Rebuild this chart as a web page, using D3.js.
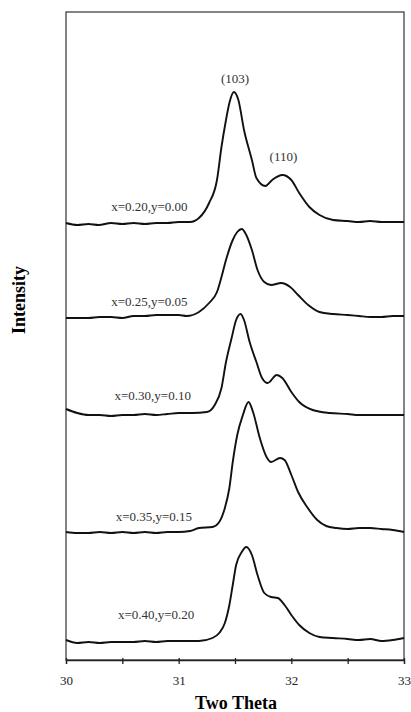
<!DOCTYPE html>
<html>
<head>
<meta charset="utf-8">
<script src="https://cdn.jsdelivr.net/npm/d3@7"></script>
<style>
body{margin:0;background:#fff;}
svg{display:block;}
</style>
</head>
<body>
<svg width="411" height="712"></svg>
<script>
// sample names, first = top trace
var samples = ["x=0.20,y=0.00","x=0.25,y=0.05","x=0.30,y=0.10","x=0.35,y=0.15","x=0.40,y=0.20"];
// vertical stacking offset of each trace (counts)
var offsets = [4350, 3420, 2440, 1270, 170];
var xTicks = [30, 31, 32, 33];

// two theta / intensity
var s020 = [[30.0,20],[30.1,0],[30.2,10],[30.29,0],[30.4,20],[30.5,10],[30.6,20],[30.7,10],[30.8,20],[30.9,20],[31.0,30],[31.1,30],[31.18,70],[31.27,220],[31.34,450],[31.38,780],[31.42,1050],[31.45,1220],[31.49,1330],[31.53,1250],[31.58,950],[31.65,650],[31.69,470],[31.77,390],[31.83,450],[31.92,500],[32.0,450],[32.07,320],[32.16,180],[32.25,100],[32.37,50],[32.5,40],[32.6,30],[32.7,40],[32.8,30],[32.9,30],[33.0,30]];
var s025 = [[30.0,0],[30.1,0],[30.2,0],[30.3,10],[30.4,10],[30.5,0],[30.6,20],[30.7,20],[30.8,30],[30.9,30],[31.0,30],[31.07,20],[31.18,60],[31.27,150],[31.34,260],[31.38,410],[31.42,580],[31.48,780],[31.52,860],[31.56,890],[31.6,830],[31.65,680],[31.7,480],[31.76,360],[31.82,330],[31.91,350],[31.99,310],[32.06,230],[32.15,130],[32.25,60],[32.37,40],[32.5,30],[32.6,20],[32.7,10],[32.8,10],[32.9,20],[33.0,20]];
var s030 = [[30.0,70],[30.1,30],[30.2,10],[30.3,10],[30.4,0],[30.5,10],[30.6,10],[30.7,20],[30.8,10],[30.9,20],[31.0,30],[31.12,30],[31.25,40],[31.32,110],[31.38,280],[31.42,540],[31.47,780],[31.51,960],[31.55,1020],[31.58,960],[31.63,740],[31.69,540],[31.74,380],[31.79,330],[31.87,410],[31.92,380],[32.0,240],[32.07,140],[32.19,60],[32.34,30],[32.5,20],[32.6,10],[32.7,10],[32.8,10],[32.9,10],[33.0,10]];
var s035 = [[30.0,10],[30.1,0],[30.2,0],[30.3,10],[30.4,0],[30.5,10],[30.6,0],[30.7,10],[30.8,0],[30.9,10],[31.0,10],[31.1,20],[31.18,50],[31.3,60],[31.36,110],[31.41,250],[31.45,450],[31.48,710],[31.52,980],[31.57,1180],[31.62,1310],[31.66,1210],[31.72,950],[31.78,760],[31.82,710],[31.9,750],[31.94,730],[32.0,580],[32.06,410],[32.14,260],[32.23,130],[32.31,70],[32.4,50],[32.5,40],[32.6,50],[32.7,50],[32.8,40],[32.9,30],[33.0,10]];
var s040 = [[30.0,30],[30.1,0],[30.2,10],[30.3,0],[30.4,10],[30.5,10],[30.6,10],[30.7,20],[30.8,10],[30.9,20],[31.0,20],[31.1,20],[31.18,20],[31.3,50],[31.36,100],[31.41,200],[31.45,380],[31.48,580],[31.51,780],[31.56,910],[31.6,960],[31.65,880],[31.7,680],[31.76,500],[31.82,460],[31.88,450],[31.94,380],[32.0,280],[32.07,180],[32.16,100],[32.25,60],[32.37,50],[32.5,40],[32.6,30],[32.7,40],[32.8,20],[32.9,30],[33.0,50]];
var series = [s020, s025, s030, s035, s040];

// reflection names on the top trace
var peakNames = ["(103)", "(110)"];
var peakTheta = [31.50, 31.93];
var peakCounts = [1420, 640];

var svgObj = d3.select("svg");
var margin = {left:66, right:7, top:12, bottom:52};
var W = 411, H = 712;

var x = d3.scaleLinear().domain([30, 33]).range([margin.left, W - margin.right]);
var y = d3.scaleLinear().domain([0, 6480]).range([H - margin.bottom, margin.top]);

// frame
svgObj.append("rect")
	.attr("x", x(30)).attr("y", y(6480))
	.attr("width", x(33) - x(30)).attr("height", y(0) - y(6480))
	.attr("fill", "none").attr("stroke", "#333").attr("stroke-width", 1.2);

// bottom axis with half-degree minor ticks
var axis = d3.axisBottom(x)
	.tickValues([30, 30.5, 31, 31.5, 32, 32.5, 33])
	.tickSize(4)
	.tickFormat(function(d){ return xTicks.indexOf(d) >= 0 ? d : ""; });
var gx = svgObj.append("g").attr("transform", "translate(0," + y(0) + ")").call(axis);
gx.select(".domain").attr("stroke", "#222").attr("stroke-width", 1.3);
gx.selectAll(".tick line").attr("stroke", "#222").attr("stroke-width", 1.3).attr("y1", -2);
gx.selectAll(".tick text")
	.attr("font-family", "Liberation Serif, Times New Roman, serif")
	.attr("font-size", 13).attr("fill", "#222").attr("dy", "1.4em");

// axis titles
svgObj.append("text")
	.attr("x", (x(30) + x(33)) / 2 + 1).attr("y", 709)
	.attr("text-anchor", "middle")
	.attr("font-family", "Liberation Serif, Times New Roman, serif")
	.attr("font-weight", "bold").attr("font-size", 18)
	.text("Two Theta");
svgObj.append("text")
	.attr("transform", "translate(25,300) rotate(-90)")
	.attr("text-anchor", "middle")
	.attr("font-family", "Liberation Serif, Times New Roman, serif")
	.attr("font-weight", "bold").attr("font-size", 18)
	.text("Intensity");

// traces
var line = d3.line()
	.x(function(d){ return x(d[0]); })
	.y(function(d){ return y(d[1]); })
	.curve(d3.curveMonotoneX);

for(var i = 0; i < series.length; i++){
	var off = offsets[i];
	var pts = series[i].map(function(p){ return [p[0], p[1] + off]; });
	svgObj.append("path")
		.attr("d", line(pts))
		.attr("fill", "none")
		.attr("stroke", "#111")
		.attr("stroke-width", 1.9)
		.attr("stroke-linejoin", "round");
}

// sample labels, to the left of each rise
var labelTheta = [30.74, 30.74, 30.77, 30.78, 30.80];
var labelLift = [140, 120, 160, 120, 240];
for(var i = 0; i < samples.length; i++){
	svgObj.append("text")
		.attr("x", x(labelTheta[i]))
		.attr("y", y(offsets[i] + labelLift[i]))
		.attr("text-anchor", "middle")
		.attr("font-family", "Liberation Serif, Times New Roman, serif")
		.attr("font-size", 13).attr("fill", "#333")
		.text(samples[i]);
}

for(var i = 0; i < peakNames.length; i++){
	svgObj.append("text")
		.attr("x", x(peakTheta[i]))
		.attr("y", y(offsets[0] + peakCounts[i]))
		.attr("text-anchor", "middle")
		.attr("font-family", "Liberation Serif, Times New Roman, serif")
		.attr("font-size", 13).attr("fill", "#333")
		.text(peakNames[i]);
}
</script>
</body>
</html>
